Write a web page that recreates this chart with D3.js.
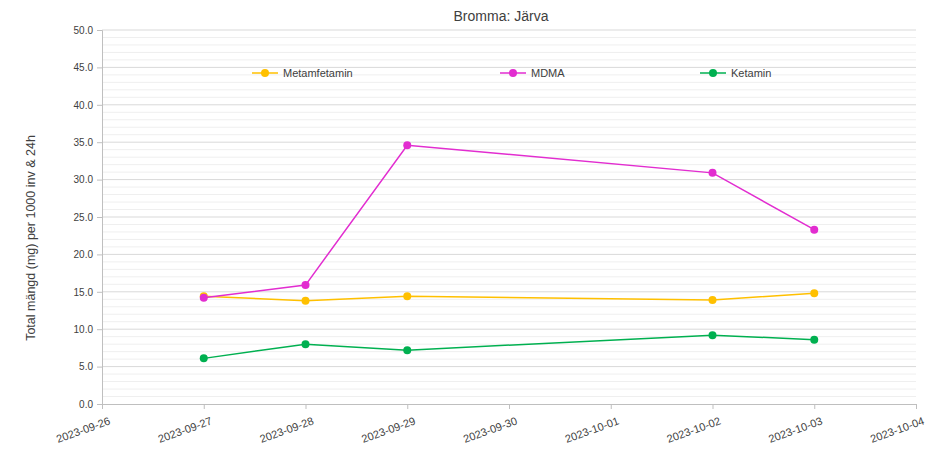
<!DOCTYPE html>
<html>
<head>
<meta charset="utf-8">
<script src="https://cdn.jsdelivr.net/npm/d3@7"></script>
<style>
    body { margin: 0; background: #fff; }
    svg { font-family: "Liberation Sans", Arial, sans-serif; }
</style>
</head>
<body>
<div id="chart"></div>
<script>
const dates = ['2023-09-27', '2023-09-28', '2023-09-29', '2023-10-02', '2023-10-03'];
const tickDates = ['2023-09-26', '2023-09-27', '2023-09-28', '2023-09-29', '2023-09-30',
    '2023-10-01', '2023-10-02', '2023-10-03', '2023-10-04'];
const metamfetamin = [14.4, 13.8, 14.4, 13.9, 14.8];
const mdma = [14.2, 15.9, 34.6, 30.9, 23.3];
const ketamin = [6.1, 8.0, 7.2, 9.2, 8.6];
const yTicks = [0, 5, 10, 15, 20, 25, 30, 35, 40, 45, 50];

const seriesList = [
    { name: 'Metamfetamin', values: metamfetamin, color: '#FFC000' },
    { name: 'MDMA', values: mdma, color: '#E22DD0' },
    { name: 'Ketamin', values: ketamin, color: '#00B050' }
];

const width = 929, height = 451;
const margin = { top: 30, right: 13, bottom: 47, left: 102 };
const innerW = width - margin.left - margin.right;
const innerH = height - margin.top - margin.bottom;

const parse = d3.timeParse('%Y-%m-%d');

const svg = d3.select('#chart')
    .append('svg')
    .attr('width', width)
    .attr('height', height);

const g = svg.append('g')
    .attr('transform', `translate(${margin.left},${margin.top})`);

const x = d3.scaleTime()
    .domain([parse(tickDates[0]), parse(tickDates[tickDates.length - 1])])
    .range([0, innerW]);

const y = d3.scaleLinear()
    .domain([0, 50])
    .range([innerH, 0]);

// minor gridlines every 1
g.append('g')
    .selectAll('line')
    .data(d3.range(0, 51, 1).filter(v => v % 5 !== 0))
    .enter()
    .append('line')
    .attr('x1', 0)
    .attr('x2', innerW)
    .attr('y1', d => y(d))
    .attr('y2', d => y(d))
    .attr('stroke', '#efefef')
    .attr('stroke-width', 1);

// major gridlines
g.append('g')
    .selectAll('line')
    .data(yTicks.filter(v => v > 0))
    .enter()
    .append('line')
    .attr('x1', 0)
    .attr('x2', innerW)
    .attr('y1', d => y(d))
    .attr('y2', d => y(d))
    .attr('stroke', '#d9d9d9')
    .attr('stroke-width', 1);

// Y axis
const yAxis = g.append('g')
    .call(d3.axisLeft(y).tickValues(yTicks).tickFormat(d3.format('.1f')).tickSize(5).tickPadding(4));
yAxis.select('.domain').attr('stroke', '#bfbfbf');
yAxis.selectAll('.tick line').attr('stroke', '#bfbfbf');
yAxis.selectAll('text')
    .style('font-size', '10px')
    .style('fill', '#404040');

// X axis
const xAxis = g.append('g')
    .attr('transform', `translate(0,${innerH})`)
    .call(d3.axisBottom(x).tickValues(tickDates.map(parse)).tickFormat(d3.timeFormat('%Y-%m-%d')).tickSize(5));
xAxis.select('.domain').attr('stroke', '#bfbfbf');
xAxis.selectAll('.tick line').attr('stroke', '#bfbfbf');
xAxis.selectAll('text')
    .attr('transform', 'translate(3,5) rotate(-20)')
    .style('text-anchor', 'end')
    .style('font-size', '11px')
    .style('fill', '#404040');

// Lines and points
const line = d3.line()
    .x((d, i) => x(parse(dates[i])))
    .y(d => y(d));

seriesList.forEach(s => {
    g.append('path')
        .datum(s.values)
        .attr('fill', 'none')
        .attr('stroke', s.color)
        .attr('stroke-width', 1.5)
        .attr('d', line);

    g.selectAll(null)
        .data(s.values)
        .enter()
        .append('circle')
        .attr('cx', (d, i) => x(parse(dates[i])))
        .attr('cy', d => y(d))
        .attr('r', 4)
        .attr('fill', s.color);
});

// Legend
const legendX = [150, 398, 598];
seriesList.forEach((s, i) => {
    const lg = g.append('g')
        .attr('transform', `translate(${legendX[i]},${43})`);
    lg.append('line')
        .attr('x1', 0).attr('x2', 26)
        .attr('stroke', s.color)
        .attr('stroke-width', 1.5);
    lg.append('circle')
        .attr('cx', 13)
        .attr('r', 4)
        .attr('fill', s.color);
    lg.append('text')
        .attr('x', 31)
        .attr('dy', '0.35em')
        .style('font-size', '11px')
        .style('fill', '#404040')
        .text(s.name);
});

// Title
svg.append('text')
    .attr('x', 501)
    .attr('y', 21)
    .attr('text-anchor', 'middle')
    .style('font-size', '14px')
    .style('fill', '#404040')
    .text('Bromma: Järva');

// Y axis label
svg.append('text')
    .attr('transform', 'rotate(-90)')
    .attr('x', -238)
    .attr('y', 35)
    .attr('text-anchor', 'middle')
    .style('font-size', '12.5px')
    .style('fill', '#404040')
    .text('Total mängd (mg) per 1000 inv & 24h');
</script>
</body>
</html>
